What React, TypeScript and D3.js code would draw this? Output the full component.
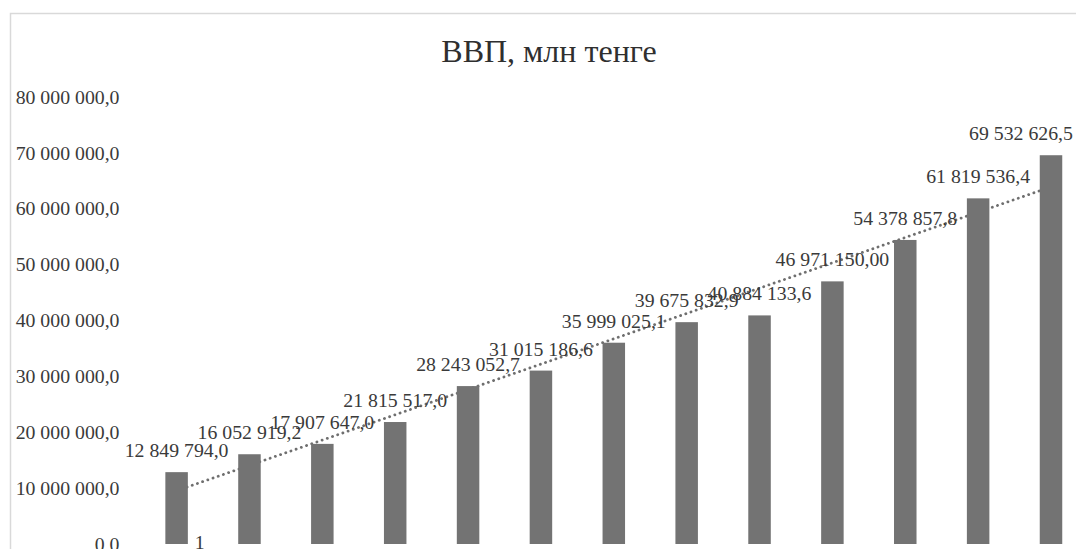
import React from "react";
import * as d3 from "d3";

const title = "ВВП, млн тенге";
const categories = ["1", "2", "3", "4", "5", "6", "7", "8", "9", "10", "11", "12", "13"];
const categoryLabels = ["1", "", "", "", "", "", "", "", "", "", "", "", ""];
const gdpValues = [
  12849794.0, 16052919.2, 17907647.0, 21815517.0, 28243052.7, 31015186.6,
  35999025.1, 39675832.9, 40884133.6, 46971150.0, 54378857.8, 61819536.4, 69532626.5,
];
const labelDecimals = [1, 1, 1, 1, 1, 1, 1, 1, 1, 2, 1, 1, 1];
const yTicks = [0, 10000000, 20000000, 30000000, 40000000, 50000000, 60000000, 70000000, 80000000];

const W = 1076;
const H = 549;
const FONT = "'Liberation Serif', 'Times New Roman', serif";
const LABEL_SIZE = 19.8;
const CHART_RIGHT = 1073;

const locale = d3.formatLocale({ decimal: ",", thousands: " ", grouping: [3], currency: ["", ""] });

export default function App() {
  const x = d3.scalePoint<string>().domain(categories).range([176.6, 1051]);
  const y = d3.scaleLinear().domain([0, 80000000]).range([544, 96.7]);
  const barW = 22.5;

  // linear trendline (least squares) computed from the data
  const n = gdpValues.length;
  const xs = gdpValues.map((_, i) => i + 1);
  const mx = d3.mean(xs) as number;
  const my = d3.mean(gdpValues) as number;
  const sxy = d3.sum(xs, (xi, i) => (xi - mx) * (gdpValues[i] - my));
  const sxx = d3.sum(xs, (xi) => (xi - mx) * (xi - mx));
  const slope = sxy / sxx;
  const intercept = my - slope * mx;
  const trendPts: [number, number][] = [
    [x(categories[0]) as number, y(intercept + slope * 1)],
    [x(categories[n - 1]) as number, y(intercept + slope * n)],
  ];
  const trendLine = d3.line()(trendPts) as string;

  const tickFmt = locale.format(",.1f");
  const labels = gdpValues.map((v, i) => locale.format(`,.${labelDecimals[i]}f`)(v));
  const estWidth = (s: string) =>
    d3.sum(s.split(""), (ch) => (/[0-9]/.test(ch) ? 0.5 : 0.25)) * LABEL_SIZE;

  return (
    <svg
      width={W}
      height={H}
      style={{ position: "absolute", left: 0, top: 0, background: "#fff" }}
      fontFamily={FONT}
    >
      <rect x={0} y={0} width={W} height={H} fill="#fff" />
      <rect x={10.5} y={13.5} width={W + 20} height={H + 20} fill="none" stroke="#d9d9d9" strokeWidth={1.5} />
      <text x={549} y={62} textAnchor="middle" fontSize={32} fill="#2f2f2f">
        {title}
      </text>
      {yTicks.map((t) => (
        <text
          key={t}
          x={119.5}
          y={y(t)}
          dy="0.35em"
          textAnchor="end"
          fontSize={LABEL_SIZE}
          fill="#3a3a3a"
        >
          {tickFmt(t)}
        </text>
      ))}
      <path
        d={trendLine}
        fill="none"
        stroke="#6f6f6f"
        strokeWidth={2.8}
        strokeDasharray="0.1 5.4"
        strokeLinecap="round"
      />
      {gdpValues.map((v, i) => (
        <rect
          key={i}
          x={(x(categories[i]) as number) - barW / 2}
          y={y(v)}
          width={barW}
          height={y(0) - y(v)}
          fill="#737373"
        />
      ))}
      {labels.map((s, i) => {
        const cx = x(categories[i]) as number;
        const half = estWidth(s) / 2;
        const lx = Math.min(cx, CHART_RIGHT - half);
        return (
          <text
            key={"l" + i}
            x={lx}
            y={y(gdpValues[i]) - 15}
            textAnchor="middle"
            fontSize={LABEL_SIZE}
            fill="#3a3a3a"
          >
            {s}
          </text>
        );
      })}
      {categoryLabels.map((c, i) =>
        c ? (
          <text key={"c" + i} x={(x(categories[i]) as number) + 23} y={549} textAnchor="middle" fontSize={LABEL_SIZE} fill="#3a3a3a">
            {c}
          </text>
        ) : null
      )}
    </svg>
  );
}
